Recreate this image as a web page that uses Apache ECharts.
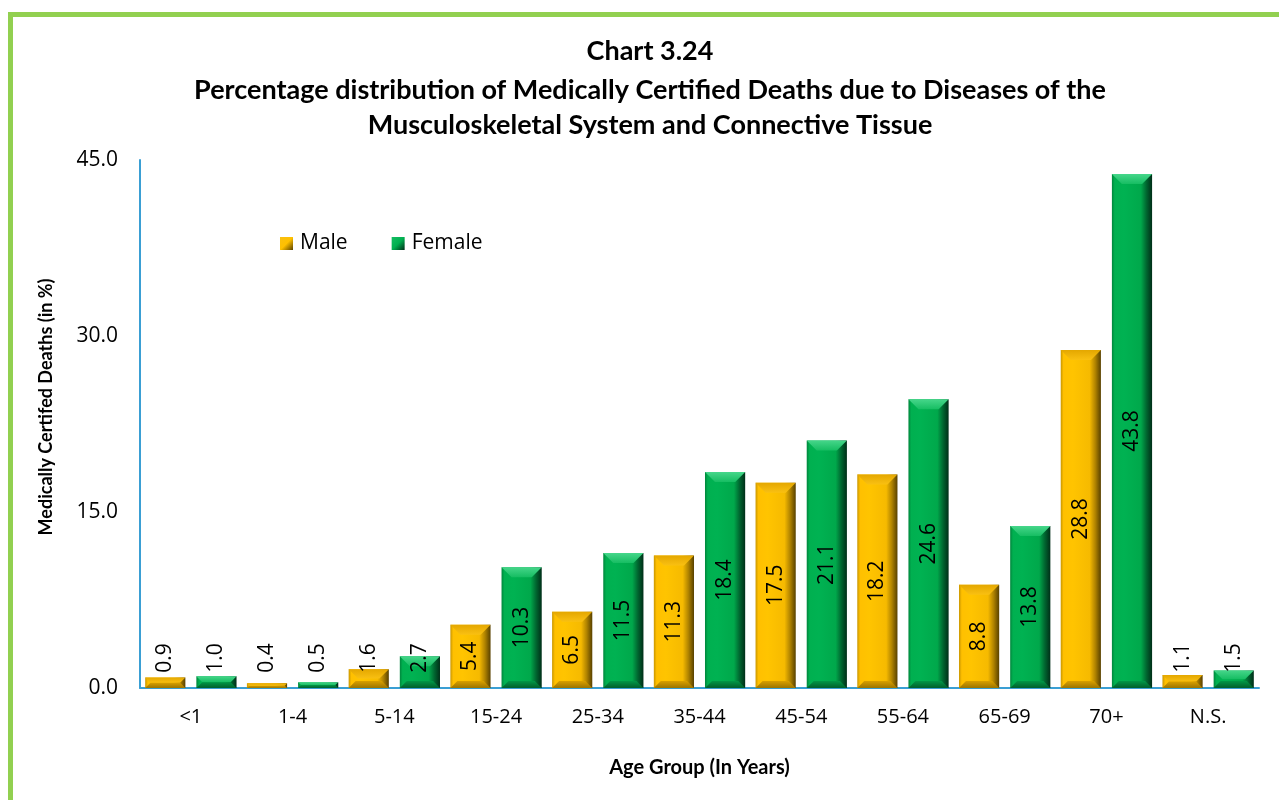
<!DOCTYPE html>
<html>
<head>
<meta charset="utf-8">
<script src="https://cdn.jsdelivr.net/npm/echarts@6/dist/echarts.min.js"></script>
<style>
  html, body { margin: 0; padding: 0; background: #ffffff; }
  #chart { width: 1279px; height: 800px; }
</style>
</head>
<body>
<div id="chart"></div>
<script>
// Age groups shown along the horizontal axis
const categories = ['<1', '1-4', '5-14', '15-24', '25-34', '35-44', '45-54', '55-64', '65-69', '70+', 'N.S.'];
// Percentage of medically certified deaths by sex
const maleValues = [0.9, 0.4, 1.6, 5.4, 6.5, 11.3, 17.5, 18.2, 8.8, 28.8, 1.1];
const femaleValues = [1.0, 0.5, 2.7, 10.3, 11.5, 18.4, 21.1, 24.6, 13.8, 43.8, 1.5];
// Value axis range
const yMin = 0, yMax = 45, yStep = 15;

const BOLD_FONT = 'Lato, "Open Sans", sans-serif';
const TEXT_FONT = '"Open Sans", Lato, sans-serif';

const palettes = {
  male: {
    base: '#FFC000',
    face: ['#C99600', '#FFC000', '#FFC400', '#F6BA00', '#B08300', '#584100'],
    top: ['#E4A700', '#F9C012'],
    bottom: ['#D8A000', '#9C7400']
  },
  female: {
    base: '#00B050',
    face: ['#00853C', '#00B050', '#00B252', '#00A84B', '#006630', '#002E18'],
    top: ['#46D68A', '#16BD62'],
    bottom: ['#009747', '#005F2B']
  }
};

function lin(x0, y0, x1, y1, stops) {
  return new echarts.graphic.LinearGradient(x0, y0, x1, y1, stops);
}

// Bevelled bar drawn through the category/value scales; side = -1 left slot, +1 right slot
function bevelBar(pal, side) {
  return function (params, api) {
    const idx = api.value(0);
    const val = api.value(1);
    const base = api.coord([idx, 0]);
    const tip = api.coord([idx, val]);
    const band = api.size([1, 0])[0];
    const w = band * 0.395;
    const gap = band * 0.108;
    const cx = base[0] + side * (gap / 2 + w / 2);
    const x = cx - w / 2;
    const y0 = tip[1];
    const y1 = base[1];
    const h = y1 - y0;
    const d = Math.min(10, h / 2);
    const db = Math.min(7, h / 2);
    const f = pal.face;
    // short bars keep their value label a fixed distance above the baseline
    const labelY = Math.min((y0 + y1) / 2, y1 - 30);
    return {
      type: 'group',
      children: [
        {
          type: 'rect',
          shape: { x: x, y: y0, width: w, height: h },
          style: {
            fill: lin(0, 0, 1, 0, [
              { offset: 0, color: f[0] },
              { offset: 0.07, color: f[1] },
              { offset: 0.3, color: f[2] },
              { offset: 0.72, color: f[3] },
              { offset: 0.86, color: f[4] },
              { offset: 1, color: f[5] }
            ])
          }
        },
        {
          type: 'polygon',
          shape: { points: [[x, y0], [x + w, y0], [x + w - d, y0 + d], [x + d, y0 + d]] },
          style: { fill: lin(0, 0, 0, 1, [{ offset: 0, color: pal.top[0] }, { offset: 1, color: pal.top[1] }]) }
        },
        {
          type: 'polygon',
          shape: { points: [[x, y1], [x + w, y1], [x + w - db, y1 - db], [x + db, y1 - db]] },
          style: { fill: lin(0, 0, 0, 1, [{ offset: 0, color: pal.bottom[0] }, { offset: 1, color: pal.bottom[1] }]) }
        },
        {
          type: 'text',
          x: cx,
          y: labelY,
          rotation: Math.PI / 2,
          z2: 10,
          style: {
            text: val.toFixed(1),
            fill: '#000000',
            font: '21px ' + TEXT_FONT,
            align: 'center',
            verticalAlign: 'middle'
          }
        }
      ]
    };
  };
}

function legendIcon(pal) {
  return lin(0, 0, 1, 1, [
    { offset: 0, color: pal.top[1] },
    { offset: 0.5, color: pal.base },
    { offset: 1, color: pal.face[5] }
  ]);
}

const chart = echarts.init(document.getElementById('chart'), null, { renderer: 'canvas' });

chart.setOption({
  backgroundColor: '#ffffff',
  animation: false,
  grid: { left: 140, right: 20, top: 160, bottom: 112, containLabel: false },
  graphic: [
    {
      type: 'rect',
      shape: { x: 10.5, y: 14.5, width: 1300, height: 820 },
      style: { fill: 'none', stroke: '#92D050', lineWidth: 5 },
      silent: true
    },
    {
      type: 'text',
      x: 650, y: 51,
      style: { text: 'Chart 3.24', font: 'bold 27px ' + BOLD_FONT, fill: '#000', align: 'center', verticalAlign: 'middle' }
    },
    {
      type: 'text',
      x: 650, y: 90,
      style: { text: 'Percentage distribution of Medically Certified Deaths due to Diseases of the', font: 'bold 27px ' + BOLD_FONT, fill: '#000', align: 'center', verticalAlign: 'middle' }
    },
    {
      type: 'text',
      x: 650, y: 125,
      style: { text: 'Musculoskeletal System and Connective Tissue', font: 'bold 27px ' + BOLD_FONT, fill: '#000', align: 'center', verticalAlign: 'middle' }
    },
    {
      type: 'text',
      x: 46, y: 407,
      rotation: Math.PI / 2,
      style: { text: 'Medically Certifed Deaths (in %)', font: 'bold 18px ' + BOLD_FONT, fill: '#000', align: 'center', verticalAlign: 'middle' }
    }
  ],
  legend: {
    left: 275,
    top: 228,
    itemWidth: 13,
    itemHeight: 13,
    itemGap: 44,
    icon: 'rect',
    textStyle: { fontFamily: TEXT_FONT, fontSize: 21, color: '#000', padding: [0, 0, 0, 2] },
    data: [
      { name: 'Male', itemStyle: { color: legendIcon(palettes.male) } },
      { name: 'Female', itemStyle: { color: legendIcon(palettes.female) } }
    ]
  },
  xAxis: {
    type: 'category',
    data: categories,
    boundaryGap: true,
    name: 'Age Group (In Years)',
    nameLocation: 'middle',
    nameGap: 70,
    nameTextStyle: { fontFamily: BOLD_FONT, fontWeight: 'bold', fontSize: 20, color: '#000' },
    axisLine: { show: true, lineStyle: { color: '#3A9FD4', width: 2 } },
    axisTick: { show: false },
    axisLabel: { color: '#000', fontFamily: TEXT_FONT, fontSize: 20, margin: 19 },
    splitLine: { show: false }
  },
  yAxis: {
    type: 'value',
    min: yMin,
    max: yMax,
    interval: yStep,
    axisLine: { show: true, lineStyle: { color: '#3A9FD4', width: 2 } },
    axisTick: { show: false },
    splitLine: { show: false },
    axisLabel: {
      color: '#000', fontFamily: TEXT_FONT, fontSize: 21, margin: 22,
      formatter: function (v) { return v.toFixed(1); }
    }
  },
  series: [
    {
      name: 'Male',
      type: 'custom',
      itemStyle: { color: palettes.male.base },
      renderItem: bevelBar(palettes.male, -1),
      encode: { x: 0, y: 1 },
      data: maleValues.map(function (v, i) { return [i, v]; })
    },
    {
      name: 'Female',
      type: 'custom',
      itemStyle: { color: palettes.female.base },
      renderItem: bevelBar(palettes.female, 1),
      encode: { x: 0, y: 1 },
      data: femaleValues.map(function (v, i) { return [i, v]; })
    }
  ]
});
</script>
</body>
</html>
